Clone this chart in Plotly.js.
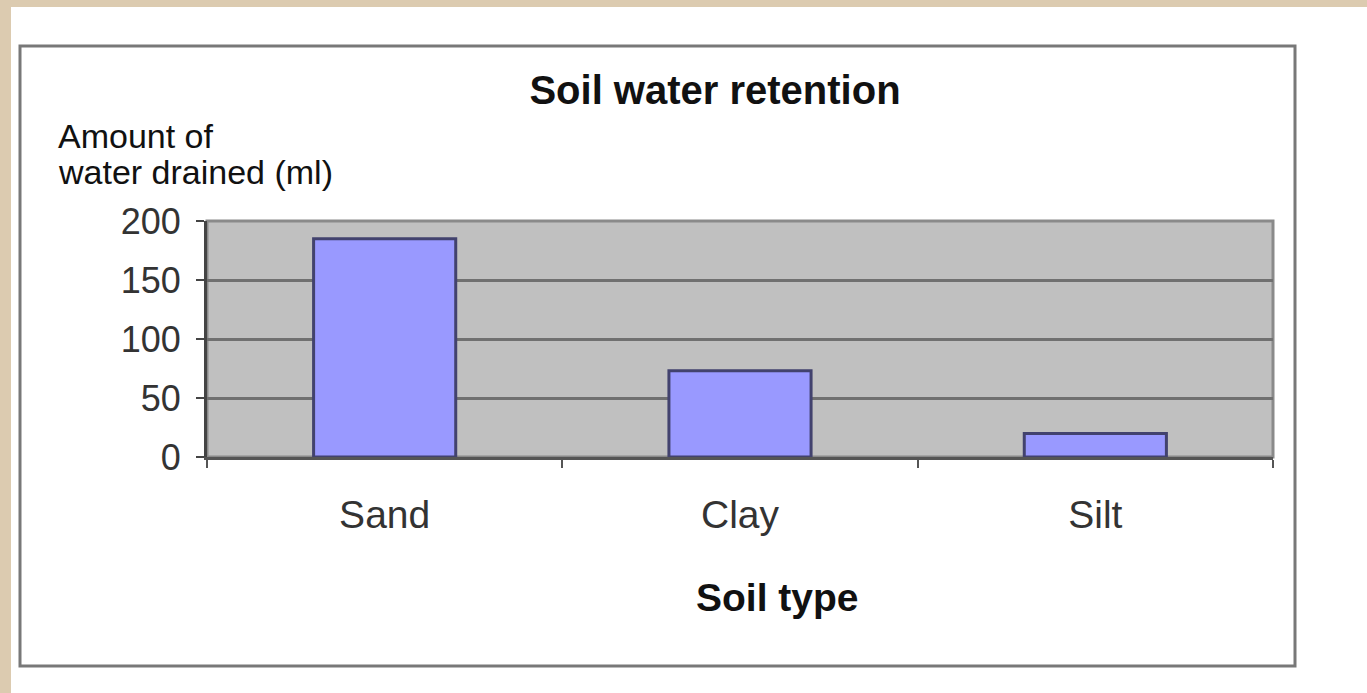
<!DOCTYPE html>
<html>
<head>
<meta charset="utf-8">
<script src="https://cdn.plot.ly/plotly-3.0.1.min.js"></script>
<style>
  html, body { margin: 0; padding: 0; background: #dccbb0; overflow: hidden; }
  #chart { position: absolute; left: 11px; top: 7px; width: 1356px; height: 686px; }
</style>
</head>
<body>
<div id="chart"></div>
<script>
// ---- data ----
const soilTypes = ["Sand", "Clay", "Silt"];
const waterDrained = [185, 73, 20];
const yTickValues = [0, 50, 100, 150, 200];
const yTickLabels = ["0", "50", "100", "150", "200"];
const chartTitle = "Soil water retention";
const xTitle = "Soil type";
const yTitleLines = ["Amount of", "water drained (ml)"];

// ---- layout helpers (page pixel -> paper) ----
const OX = 11, OY = 7;            // div offset on the page
const W = 1367 - OX, H = 693 - OY;
const L = 207, R = 1273, T = 221, B = 457;  // plot area, page pixels
const px = x => (x - L) / (R - L);
const py = y => (B - y) / (B - T);

const FONT = "Liberation Sans, Arial, sans-serif";

const trace = {
  type: "bar",
  x: soilTypes,
  y: waterDrained,
  marker: { color: "#9999ff", line: { color: "#42426e", width: 3 } },
  hoverinfo: "x+y"
};

const layout = {
  width: W, height: H,
  margin: { l: L - OX, r: 1367 - R, t: T - OY, b: 693 - B, pad: 0 },
  paper_bgcolor: "#ffffff",
  plot_bgcolor: "#c0c0c0",
  showlegend: false,
  bargap: 0.6,
  title: {
    text: chartTitle,
    x: (715 - OX) / W, xanchor: "center",
    y: 1 - (90 - OY) / H, yanchor: "middle",
    font: { family: FONT, size: 40, color: "#111111", weight: "bold" }
  },
  xaxis: {
    type: "category",
    range: [-0.5, 2.5],
    showline: true, linecolor: "#555555", linewidth: 3,
    ticks: "outside", tickson: "boundaries", ticklen: 8, tickwidth: 2, tickcolor: "#555555",
    ticklabelstandoff: 21,
    tickfont: { family: FONT, size: 39, color: "#333333" },
    showgrid: false, zeroline: false, fixedrange: true
  },
  yaxis: {
    range: [0, 200],
    tickvals: yTickValues, ticktext: yTickLabels,
    showline: true, linecolor: "#444444", linewidth: 3,
    ticks: "outside", ticklen: 8, tickwidth: 2, tickcolor: "#444444",
    ticklabelstandoff: 8,
    tickfont: { family: FONT, size: 36, color: "#333333" },
    showgrid: true, gridcolor: "#707070", gridwidth: 3,
    zeroline: false, fixedrange: true
  },
  shapes: [
    // plot-area frame (top and right edges visible)
    { type: "rect", xref: "paper", yref: "paper", layer: "below",
      x0: 0, x1: 1, y0: 0, y1: 1,
      fillcolor: "rgba(0,0,0,0)", line: { color: "#8a8a8a", width: 3 } },
    // chart border
    { type: "rect", xref: "paper", yref: "paper", layer: "below",
      x0: px(20), x1: px(1295), y0: py(666), y1: py(46),
      fillcolor: "rgba(0,0,0,0)", line: { color: "#787878", width: 3 } }
  ],
  annotations: [
    { text: "<b>" + xTitle + "</b>", xref: "paper", yref: "paper",
      x: px(777), y: py(597), xanchor: "center", yanchor: "middle",
      showarrow: false, font: { family: FONT, size: 39, color: "#111111" } },
    { text: yTitleLines[0], xref: "paper", yref: "paper",
      x: px(56), y: py(136), xanchor: "left", yanchor: "middle",
      showarrow: false, font: { family: FONT, size: 34, color: "#111111" } },
    { text: yTitleLines[1], xref: "paper", yref: "paper",
      x: px(56), y: py(172), xanchor: "left", yanchor: "middle",
      showarrow: false, font: { family: FONT, size: 34, color: "#111111" } }
  ]
};

Plotly.newPlot("chart", [trace], layout, { displayModeBar: false, staticPlot: true });
</script>
</body>
</html>
